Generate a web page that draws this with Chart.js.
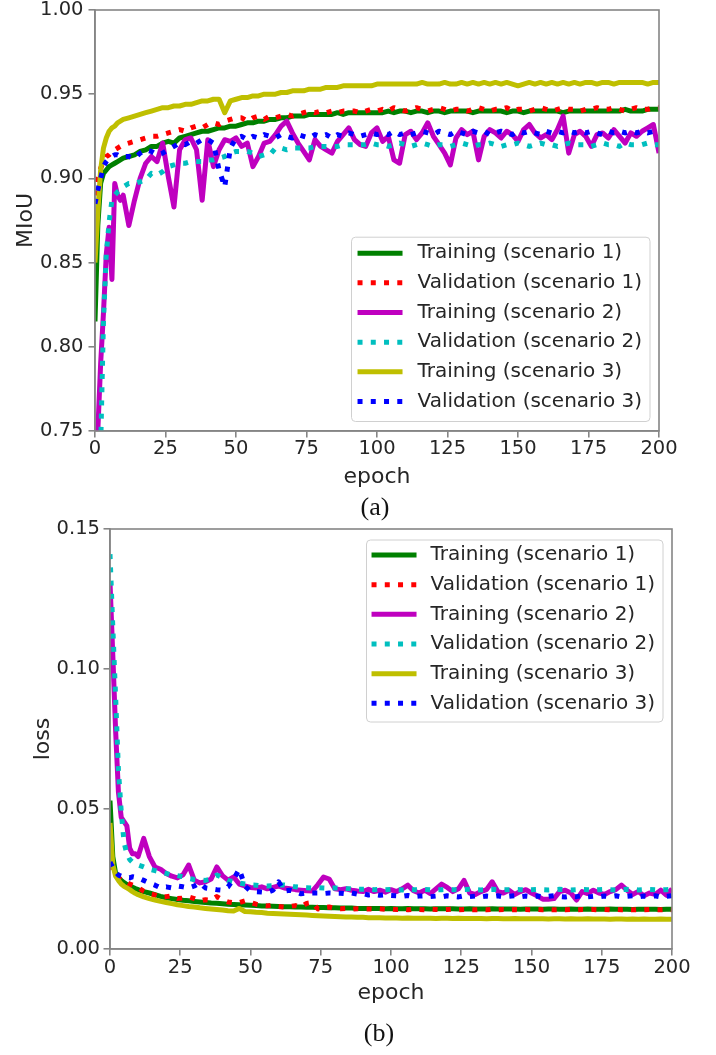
<!DOCTYPE html>
<html><head><meta charset="utf-8">
<script src="https://cdn.jsdelivr.net/npm/chart.js@4.4.1/dist/chart.umd.min.js"></script>
<style>
html,body{margin:0;padding:0;background:#fff;}
body{width:716px;height:1055px;position:relative;overflow:hidden;}
#wrapA{position:absolute;left:0;top:-20px;width:716px;height:550px;}
#wrapB{position:absolute;left:0;top:505px;width:716px;height:550px;}
.cap{position:absolute;font-family:"Liberation Serif","Times New Roman",serif;font-size:26px;line-height:26px;color:#111;transform:translateX(-50%);white-space:nowrap;}
</style></head><body>
<div id="wrapA"><canvas id="cA" width="716" height="550"></canvas></div>
<div id="wrapB"><canvas id="cB" width="716" height="550"></canvas></div>
<div class="cap" style="left:375px;top:494px">(a)</div>
<div class="cap" style="left:379px;top:1020px">(b)</div>
<script>
// ---------- DATA ----------
const epochs = [0,1,2,3,4,5,6,7,8,9,10,12,14,16,18,20,22,24,26,28,30,32,34,36,38,40,42,44,46,48,50,52,54,56,58,60,62,64,66,68,70,72,74,76,78,80,82,84,86,88,90,92,94,96,98,100,102,104,106,108,110,112,114,116,118,120,122,124,126,128,130,132,134,136,138,140,142,144,146,148,150,152,154,156,158,160,162,164,166,168,170,172,174,176,178,180,182,184,186,188,190,192,194,196,198,200];

const seriesLabels = ['Training (scenario 1)','Validation (scenario 1)','Training (scenario 2)','Validation (scenario 2)','Training (scenario 3)','Validation (scenario 3)'];

const xTicks = [0,25,50,75,100,125,150,175,200];
const miouTicks = [0.75,0.80,0.85,0.90,0.95,1.00];
const lossTicks = [0.00,0.05,0.10,0.15];

// (a) MIoU
const miouTrain1 = [0.815,0.872,0.897,0.903,0.905,0.907,0.908,0.909,0.910,0.911,0.912,
0.913,0.914,0.916,0.917,0.919, 0.919,0.921,0.922,0.921,0.924, 0.925,0.926,0.927,0.928,0.928,
0.929,0.930,0.930,0.931,0.931, 0.932,0.933,0.933,0.934,0.934, 0.935,0.935,0.936,0.936,0.937,
0.937,0.937,0.938,0.938,0.938, 0.938,0.938,0.939,0.938,0.939, 0.939,0.939,0.939,0.939,0.939,
0.939,0.940,0.939,0.940,0.940, 0.939,0.940,0.940,0.939,0.940, 0.940,0.939,0.940,0.940,0.940,
0.940,0.939,0.940,0.940,0.940, 0.940,0.940,0.939,0.940,0.940, 0.939,0.940,0.940,0.940,0.940,
0.940,0.940,0.939,0.940,0.940, 0.940,0.940,0.940,0.940,0.940, 0.940,0.940,0.940,0.941,0.940,
0.940,0.940,0.941,0.941,0.941];

const miouVal1 = [0.890,0.900,0.906,0.910,0.913,0.914,0.916,0.917,0.918,0.919,0.920,
0.921,0.922,0.923,0.924,0.925, 0.925,0.926,0.927,0.928,0.929, 0.928,0.930,0.931,0.930,0.932,
0.933,0.932,0.934,0.935,0.936, 0.936,0.934,0.936,0.937,0.935, 0.937,0.936,0.937,0.938,0.937,
0.938,0.939,0.940,0.939,0.940, 0.939,0.940,0.939,0.940,0.940, 0.940,0.939,0.940,0.941,0.940,
0.941,0.940,0.942,0.941,0.940, 0.941,0.942,0.941,0.940,0.941, 0.942,0.941,0.940,0.941,0.941,
0.940,0.941,0.942,0.941,0.940, 0.941,0.941,0.942,0.940,0.941, 0.941,0.940,0.941,0.942,0.941,
0.940,0.941,0.942,0.941,0.941, 0.940,0.941,0.941,0.942,0.941, 0.941,0.942,0.941,0.940,0.941,
0.942,0.941,0.941,0.942,0.942];

const miouTrain2 = [0.700,0.750,0.790,0.820,0.855,0.871,0.840,0.897,0.890,0.887,0.890,
0.872,0.887,0.900,0.909,0.913, 0.910,0.921,0.901,0.883,0.917, 0.923,0.924,0.917,0.887,0.923,
0.907,0.917,0.923,0.922,0.924, 0.919,0.921,0.907,0.913,0.921, 0.922,0.926,0.931,0.934,0.927,
0.921,0.916,0.911,0.923,0.919, 0.917,0.915,0.922,0.926,0.930, 0.923,0.920,0.919,0.927,0.930,
0.922,0.925,0.911,0.909,0.926, 0.928,0.923,0.927,0.933,0.925, 0.920,0.915,0.908,0.924,0.929,
0.926,0.928,0.911,0.925,0.929, 0.927,0.924,0.928,0.926,0.922, 0.929,0.932,0.927,0.924,0.926,
0.923,0.929,0.937,0.915,0.926, 0.928,0.925,0.919,0.926,0.927, 0.924,0.929,0.925,0.921,0.927,
0.925,0.928,0.930,0.932,0.915];

const miouVal2 = [0.600,0.680,0.740,0.815,0.855,0.874,0.887,0.890,0.892,0.893,0.895,
0.897,0.897,0.898,0.899,0.903, 0.902,0.904,0.907,0.908,0.909, 0.909,0.910,0.910,0.910,0.911,
0.911,0.912,0.913,0.915,0.916, 0.916,0.916,0.915,0.913,0.914, 0.914,0.918,0.918,0.917,0.918,
0.918,0.918,0.918,0.919,0.919, 0.919,0.919,0.919,0.920,0.920, 0.920,0.920,0.920,0.921,0.920,
0.920,0.919,0.920,0.921,0.920, 0.919,0.920,0.921,0.920,0.919, 0.920,0.920,0.919,0.920,0.921,
0.920,0.919,0.920,0.920,0.921, 0.920,0.919,0.920,0.920,0.921, 0.920,0.919,0.920,0.921,0.920,
0.920,0.919,0.920,0.921,0.920, 0.920,0.920,0.919,0.920,0.921, 0.920,0.920,0.919,0.921,0.920,
0.920,0.920,0.921,0.920,0.920];

const miouTrain3 = [0.850,0.880,0.905,0.918,0.924,0.928,0.930,0.931,0.933,0.934,0.935,
0.936,0.937,0.938,0.939,0.940, 0.941,0.942,0.942,0.943,0.943, 0.944,0.944,0.945,0.946,0.946,
0.947,0.947,0.939,0.946,0.947, 0.948,0.948,0.949,0.949,0.950, 0.950,0.950,0.951,0.951,0.952,
0.952,0.952,0.953,0.953,0.953, 0.954,0.954,0.954,0.955,0.955, 0.955,0.955,0.955,0.955,0.956,
0.956,0.956,0.956,0.956,0.956, 0.956,0.956,0.957,0.956,0.956, 0.956,0.957,0.956,0.956,0.957,
0.956,0.957,0.956,0.957,0.956, 0.957,0.956,0.957,0.956,0.955, 0.956,0.957,0.956,0.957,0.956,
0.957,0.956,0.957,0.956,0.957, 0.956,0.957,0.957,0.956,0.957, 0.957,0.956,0.957,0.957,0.957,
0.957,0.957,0.956,0.957,0.957];

const miouVal3 = [0.885,0.893,0.900,0.907,0.910,0.912,0.913,0.914,0.914,0.913,0.913,
0.913,0.912,0.915,0.917,0.916, 0.914,0.915,0.917,0.919,0.921, 0.920,0.922,0.921,0.923,0.923,
0.921,0.905,0.895,0.918,0.924, 0.925,0.923,0.925,0.924,0.926, 0.925,0.924,0.926,0.925,0.924,
0.926,0.925,0.924,0.926,0.925, 0.926,0.924,0.926,0.925,0.927, 0.926,0.925,0.926,0.927,0.926,
0.927,0.926,0.928,0.926,0.927, 0.926,0.927,0.928,0.927,0.926, 0.928,0.927,0.926,0.928,0.927,
0.926,0.928,0.927,0.928,0.926, 0.927,0.928,0.927,0.926,0.928, 0.927,0.928,0.927,0.926,0.928,
0.927,0.928,0.927,0.928,0.927, 0.928,0.927,0.928,0.927,0.926, 0.928,0.927,0.928,0.927,0.928,
0.927,0.928,0.927,0.928,0.928];

// (b) loss
const lossTrain1 = [0.0530,0.0330,0.0270,0.0255,0.0245,0.0237,0.0230,0.0225,0.0221,0.0216,0.0212,
0.0205,0.0200,0.0194,0.0188,0.0183, 0.0180,0.0177,0.0174,0.0172,0.0170, 0.0168,0.0166,0.0164,0.0163,0.0162,
0.0160,0.0159,0.0158,0.0157,0.0156, 0.0155,0.0154,0.0154,0.0153,0.0152, 0.0151,0.0151,0.0150,0.0150,0.0149,
0.0149,0.0148,0.0148,0.0147,0.0147, 0.0146,0.0146,0.0146,0.0145,0.0145, 0.0145,0.0145,0.0145,0.0144,0.0145,
0.0144,0.0144,0.0145,0.0144,0.0144, 0.0144,0.0143,0.0144,0.0144,0.0144, 0.0144,0.0143,0.0143,0.0144,0.0143,
0.0143,0.0143,0.0144,0.0143,0.0143, 0.0143,0.0143,0.0142,0.0143,0.0143, 0.0143,0.0142,0.0143,0.0143,0.0142,
0.0142,0.0143,0.0142,0.0142,0.0143, 0.0142,0.0142,0.0142,0.0143,0.0142, 0.0142,0.0142,0.0141,0.0142,0.0142,
0.0142,0.0142,0.0141,0.0142,0.0142];

const lossVal1 = [0.0300,0.0280,0.0265,0.0255,0.0247,0.0240,0.0238,0.0232,0.0228,0.0224,0.0220,
0.0206,0.0197,0.0193,0.0186,0.0187, 0.0190,0.0180,0.0182,0.0186,0.0180, 0.0172,0.0176,0.0174,0.0187,0.0175,
0.0168,0.0165,0.0166,0.0172,0.0166, 0.0160,0.0156,0.0154,0.0157,0.0152, 0.0150,0.0152,0.0155,0.0150,0.0163,
0.0166,0.0143,0.0148,0.0150,0.0145, 0.0144,0.0145,0.0142,0.0144,0.0143, 0.0143,0.0142,0.0144,0.0142,0.0143,
0.0141,0.0142,0.0140,0.0142,0.0141, 0.0140,0.0142,0.0141,0.0140,0.0141, 0.0142,0.0140,0.0141,0.0141,0.0140,
0.0141,0.0140,0.0142,0.0140,0.0141, 0.0140,0.0141,0.0140,0.0141,0.0140, 0.0141,0.0140,0.0141,0.0140,0.0141,
0.0140,0.0141,0.0140,0.0141,0.0140, 0.0141,0.0140,0.0141,0.0140,0.0141, 0.0140,0.0141,0.0140,0.0141,0.0140,
0.0141,0.0140,0.0140,0.0141,0.0140];

const lossTrain2 = [0.1310,0.1050,0.0780,0.0560,0.0470,0.0455,0.0440,0.0360,0.0340,0.0340,0.0330,
0.0395,0.0330,0.0293,0.0285,0.0270, 0.0260,0.0254,0.0265,0.0300,0.0246, 0.0236,0.0240,0.0250,0.0293,0.0262,
0.0246,0.0257,0.0232,0.0225,0.0220, 0.0218,0.0222,0.0215,0.0220,0.0225, 0.0218,0.0215,0.0212,0.0210,0.0208,
0.0207,0.0230,0.0257,0.0250,0.0215, 0.0212,0.0215,0.0210,0.0207,0.0205, 0.0213,0.0205,0.0210,0.0203,0.0212,
0.0205,0.0215,0.0228,0.0208,0.0200, 0.0210,0.0198,0.0215,0.0232,0.0220, 0.0205,0.0215,0.0245,0.0200,0.0195,
0.0205,0.0212,0.0240,0.0205,0.0200, 0.0210,0.0195,0.0205,0.0212,0.0200, 0.0190,0.0178,0.0178,0.0180,0.0205,
0.0210,0.0200,0.0175,0.0205,0.0198, 0.0210,0.0200,0.0195,0.0205,0.0212, 0.0228,0.0210,0.0195,0.0205,0.0190,
0.0200,0.0195,0.0210,0.0192,0.0215];

const lossVal2 = [0.1410,0.1150,0.0900,0.0640,0.0490,0.0380,0.0340,0.0320,0.0310,0.0305,0.0300,
0.0293,0.0285,0.0280,0.0275,0.0270, 0.0264,0.0262,0.0258,0.0252,0.0248, 0.0246,0.0245,0.0250,0.0264,0.0255,
0.0245,0.0240,0.0235,0.0232,0.0229, 0.0228,0.0226,0.0225,0.0226,0.0228, 0.0229,0.0226,0.0222,0.0220,0.0219,
0.0218,0.0219,0.0218,0.0217,0.0218, 0.0218,0.0216,0.0215,0.0214,0.0213, 0.0214,0.0212,0.0213,0.0212,0.0213,
0.0212,0.0211,0.0213,0.0212,0.0211, 0.0213,0.0212,0.0211,0.0212,0.0213, 0.0212,0.0211,0.0212,0.0213,0.0212,
0.0211,0.0212,0.0213,0.0212,0.0211, 0.0212,0.0213,0.0212,0.0211,0.0212, 0.0213,0.0212,0.0211,0.0212,0.0213,
0.0212,0.0211,0.0212,0.0213,0.0212, 0.0211,0.0212,0.0213,0.0212,0.0211, 0.0212,0.0213,0.0212,0.0211,0.0212,
0.0213,0.0212,0.0211,0.0212,0.0213];

const lossTrain3 = [0.0450,0.0300,0.0260,0.0245,0.0232,0.0224,0.0218,0.0212,0.0205,0.0199,0.0194,
0.0186,0.0180,0.0175,0.0170,0.0166, 0.0162,0.0158,0.0155,0.0152,0.0150, 0.0147,0.0145,0.0143,0.0141,0.0139,
0.0137,0.0136,0.0145,0.0134,0.0133, 0.0131,0.0130,0.0128,0.0127,0.0126, 0.0125,0.0124,0.0123,0.0122,0.0121,
0.0120,0.0119,0.0118,0.0117,0.0116, 0.0115,0.0114,0.0114,0.0113,0.0113, 0.0112,0.0112,0.0112,0.0111,0.0111,
0.0111,0.0110,0.0111,0.0110,0.0110, 0.0110,0.0110,0.0109,0.0110,0.0110, 0.0109,0.0110,0.0109,0.0109,0.0109,
0.0109,0.0108,0.0109,0.0109,0.0108, 0.0108,0.0109,0.0108,0.0108,0.0108, 0.0108,0.0108,0.0107,0.0108,0.0108,
0.0107,0.0108,0.0107,0.0107,0.0108, 0.0107,0.0107,0.0107,0.0106,0.0107, 0.0107,0.0106,0.0107,0.0106,0.0107,
0.0106,0.0106,0.0107,0.0106,0.0106];

const lossVal3 = [0.0310,0.0290,0.0275,0.0264,0.0260,0.0257,0.0255,0.0254,0.0258,0.0256,0.0254,
0.0245,0.0236,0.0228,0.0218,0.0222, 0.0218,0.0225,0.0222,0.0218,0.0225, 0.0236,0.0218,0.0215,0.0212,0.0210,
0.0222,0.0250,0.0285,0.0225,0.0207, 0.0205,0.0204,0.0202,0.0210,0.0240, 0.0207,0.0210,0.0205,0.0197,0.0200,
0.0200,0.0200,0.0198,0.0200,0.0199, 0.0199,0.0197,0.0200,0.0196,0.0198, 0.0193,0.0195,0.0192,0.0194,0.0191,
0.0190,0.0188,0.0191,0.0187,0.0189, 0.0190,0.0187,0.0189,0.0186,0.0190, 0.0188,0.0186,0.0190,0.0187,0.0189,
0.0186,0.0189,0.0187,0.0190,0.0186, 0.0188,0.0190,0.0186,0.0189,0.0187, 0.0189,0.0186,0.0188,0.0190,0.0187,
0.0186,0.0189,0.0187,0.0190,0.0186, 0.0188,0.0186,0.0189,0.0187,0.0190, 0.0186,0.0188,0.0190,0.0186,0.0189,
0.0187,0.0190,0.0186,0.0188,0.0190];

// ---------- STYLE ----------
const FONT = '"DejaVu Sans", "Liberation Sans", sans-serif';
const TXT = '#262626';
const SPINE = '#858585';
const seriesStyles = [
  {color:'#008000', dash:[]},
  {color:'#ff0000', dash:[5,8.25]},
  {color:'#bf00bf', dash:[]},
  {color:'#00bfbf', dash:[5,8.25]},
  {color:'#bfbf00', dash:[]},
  {color:'#0000ff', dash:[5,8.25]}
];

function buildDatasets(arrays){
  return arrays.map((arr,i)=>({
    label: seriesLabels[i],
    data: arr,
    borderColor: seriesStyles[i].color,
    backgroundColor: seriesStyles[i].color,
    borderWidth: 5,
    borderDash: seriesStyles[i].dash,
    borderCapStyle: 'butt',
    borderJoinStyle: 'round',
    pointRadius: 0,
    pointHoverRadius: 0,
    tension: 0,
    fill: false,
    clip: 0,
    order: arrays.length - 1 - i
  }));
}

const framePlugin = {
  id: 'frameLegend',
  afterDatasetsDraw(chart, args, o){
    const ctx = chart.ctx, ca = chart.chartArea;
    ctx.save();
    // axes frame (matplotlib spines)
    ctx.strokeStyle = SPINE; ctx.lineWidth = 1.6; ctx.setLineDash([]);
    ctx.strokeRect(ca.left, ca.top, ca.right - ca.left, ca.bottom - ca.top);
    // legend
    ctx.font = o.fontSize + 'px ' + FONT;
    const dsets = chart.data.datasets;
    const tw = Math.max(...dsets.map(d => ctx.measureText(d.label).width));
    const w = o.padL + o.handle + o.gap + tw + o.padR;
    const h = o.padT + o.rowH * (dsets.length - 1) + o.padB;
    const x = ca.right - o.dx - w;
    const y = o.corner === 'bottom' ? ca.bottom - o.dy - h : ca.top + o.dy;
    ctx.beginPath();
    if (ctx.roundRect) ctx.roundRect(x, y, w, h, 4); else ctx.rect(x, y, w, h);
    ctx.fillStyle = 'rgba(255,255,255,0.8)'; ctx.fill();
    ctx.lineWidth = 1; ctx.strokeStyle = '#d0d0d0'; ctx.stroke();
    dsets.forEach((d, i) => {
      const cy = y + o.padT + i * o.rowH;
      ctx.beginPath();
      ctx.setLineDash(d.borderDash || []);
      ctx.lineDashOffset = 0;
      ctx.lineWidth = d.borderWidth; ctx.strokeStyle = d.borderColor; ctx.lineCap = 'butt';
      ctx.moveTo(x + o.padL, cy); ctx.lineTo(x + o.padL + o.handle, cy); ctx.stroke();
      ctx.setLineDash([]);
      ctx.fillStyle = TXT; ctx.textBaseline = 'middle'; ctx.textAlign = 'left';
      ctx.fillText(d.label, x + o.padL + o.handle + o.gap, cy);
    });
    ctx.restore();
  }
};

function makeChart(canvasId, arrays, cfg){
  return new Chart(document.getElementById(canvasId), {
    type: 'line',
    data: { labels: epochs, datasets: buildDatasets(arrays) },
    options: {
      responsive: false, animation: false,
      events: [],
      layout: { autoPadding: false, padding: cfg.padding },
      plugins: { legend: {display:false}, tooltip: {enabled:false}, frameLegend: cfg.legend },
      scales: {
        x: {
          type: 'linear', min: 0, max: 200,
          afterBuildTicks: s => { s.ticks = xTicks.map(v => ({value: v})); },
          ticks: { font: {family: FONT, size: 19.5}, color: TXT, padding: cfg.xTickPad, maxRotation: 0, autoSkip: false,
                   callback: v => String(v) },
          grid: { drawOnChartArea: false, drawTicks: true, tickLength: 6.5, color: SPINE, lineWidth: 1.6 },
          border: { display: true, color: SPINE, width: 1.6 },
          title: { display: true, text: 'epoch', font: {family: FONT, size: 22}, color: TXT, padding: {top: 0, bottom: cfg.xTitlePad} },
          afterFit: s => { s.height = cfg.xH; }
        },
        y: {
          type: 'linear', min: cfg.yMin, max: cfg.yMax,
          afterBuildTicks: s => { s.ticks = cfg.yTicks.map(v => ({value: v})); },
          ticks: { font: {family: FONT, size: 19.5}, color: TXT, padding: cfg.yTickPad,
                   callback: v => Number(v).toFixed(2) },
          grid: { drawOnChartArea: false, drawTicks: true, tickLength: 6.5, color: SPINE, lineWidth: 1.6 },
          border: { display: true, color: SPINE, width: 1.6 },
          title: { display: true, text: cfg.yTitle, font: {family: FONT, size: 22}, color: TXT, padding: {top: cfg.yTitlePad, bottom: 0} },
          afterFit: s => { s.width = cfg.yW; }
        }
      }
    },
    plugins: [framePlugin]
  });
}

makeChart('cA', [miouTrain1, miouVal1, miouTrain2, miouVal2, miouTrain3, miouVal3], {
  padding: {left: 0, right: 57, top: 30, bottom: 30},
  xH: 69, xTitlePad: 9.5, xTickPad: 0,
  yW: 95, yTitlePad: 13.5, yTickPad: 5,
  yMin: 0.75, yMax: 1.00, yTicks: miouTicks, yTitle: 'MIoU',
  legend: {corner: 'bottom', fontSize: 20, padL: 6, handle: 45, gap: 15, padR: 8, padT: 16, padB: 20, rowH: 29.66, dx: 9, dy: 9.5}
});

makeChart('cB', [lossTrain1, lossVal1, lossTrain2, lossVal2, lossTrain3, lossVal3], {
  padding: {left: 0, right: 44, top: 24, bottom: 46},
  xH: 60, xTitlePad: 3, xTickPad: 1,
  yW: 110, yTitlePad: 30, yTickPad: 3.5,
  yMin: 0, yMax: 0.15, yTicks: lossTicks, yTitle: 'loss',
  legend: {corner: 'top', fontSize: 20, padL: 5, handle: 45, gap: 14, padR: 8, padT: 15, padB: 18.7, rowH: 29.66, dx: 9, dy: 11}
});
</script>
</body></html>
